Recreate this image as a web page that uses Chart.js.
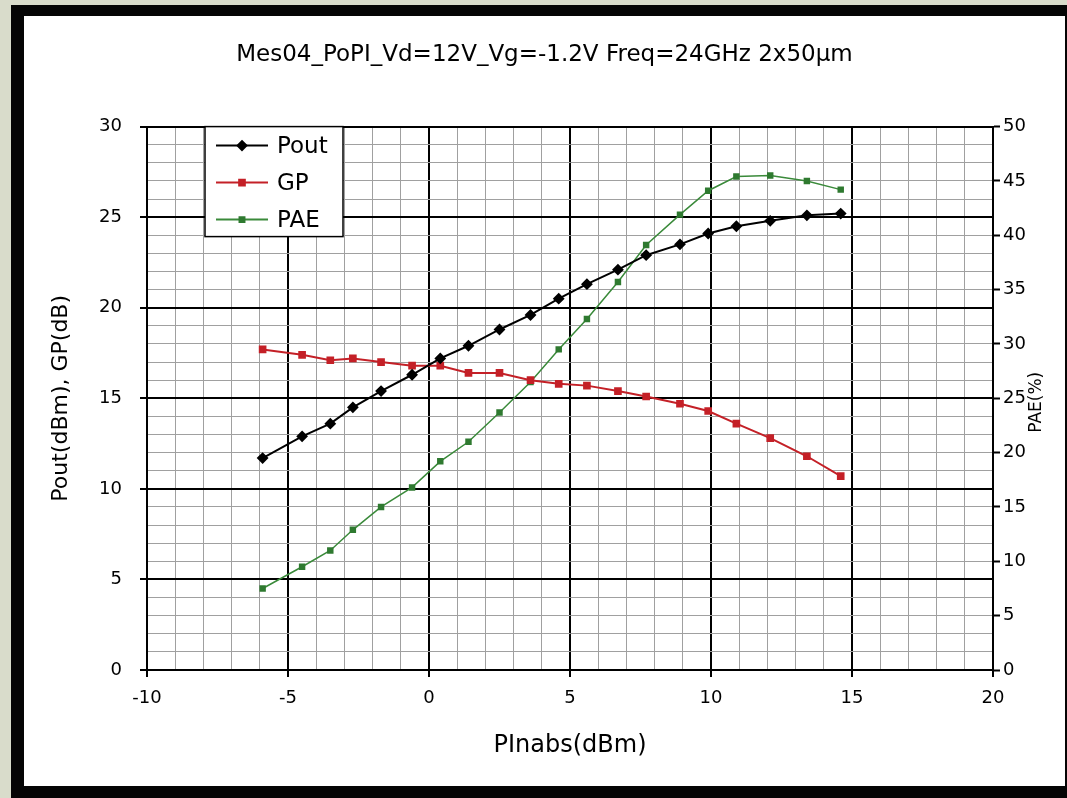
<!DOCTYPE html>
<html>
<head>
<meta charset="utf-8">
<script src="https://cdn.jsdelivr.net/npm/chart.js@4.4.0/dist/chart.umd.min.js"></script>
<style>
  html, body { margin:0; padding:0; background:#d9dccb; }
  #frame { position:absolute; left:11px; top:5px; width:1056px; height:793px; background:#050505; }
  #panel { position:absolute; left:24px; top:16px; width:1041px; height:770px; background:#fff; }
</style>
</head>
<body>
<div id="frame"></div>
<div id="panel"><canvas id="chart" width="1041" height="770"></canvas></div>
<script>
// Pin absorbed (dBm) and the three measured series
const PIN  = [-5.9, -4.5, -3.5, -2.7, -1.7, -0.6, 0.4, 1.4, 2.5, 3.6, 4.6, 5.6, 6.7, 7.7, 8.9, 9.9, 10.9, 12.1, 13.4, 14.6];
const POUT = [11.7, 12.9, 13.6, 14.5, 15.4, 16.3, 17.2, 17.9, 18.8, 19.6, 20.5, 21.3, 22.1, 22.9, 23.5, 24.1, 24.5, 24.8, 25.1, 25.2];
const GP   = [17.7, 17.4, 17.1, 17.2, 17.0, 16.8, 16.8, 16.4, 16.4, 16.0, 15.8, 15.7, 15.4, 15.1, 14.7, 14.3, 13.6, 12.8, 11.8, 10.7];
const PAE  = [7.5, 9.5, 11.0, 12.9, 15.0, 16.8, 19.2, 21.0, 23.7, 26.5, 29.5, 32.3, 35.7, 39.1, 41.9, 44.1, 45.4, 45.5, 45.0, 44.2];

const X_RANGE = [-10, 20];
const Y_RANGE = [0, 30];
const Y2_RANGE = [0, 50];
const TITLE = "Mes04_PoPI_Vd=12V_Vg=-1.2V Freq=24GHz 2x50\u00b5m";

const FONT = "DejaVu Sans";
const major = v => Math.abs(v % 5) < 1e-9;
const gridOpts = {
  color: c => (c.tick && major(c.tick.value)) ? '#000' : '#a0a0a0',
  lineWidth: c => (c.tick && major(c.tick.value)) ? 2 : 1,
  tickColor: c => (c.tick && major(c.tick.value)) ? '#000' : 'rgba(0,0,0,0)',
  tickWidth: 2,
  tickLength: 7
};

const pts = ys => PIN.map((x, i) => ({ x, y: ys[i] }));

// legend box drawn inside the plot, Excel style
const boxLegend = {
  id: 'boxLegend',
  afterDatasetsDraw(chart) {
    const { ctx, chartArea } = chart;
    const x0 = chartArea.left + 58, y0 = chartArea.top, w = 138, h = 110;
    ctx.save();
    ctx.fillStyle = '#fff';
    ctx.fillRect(x0, y0, w, h);
    ctx.strokeStyle = '#000';
    ctx.lineWidth = 1.5;
    ctx.strokeRect(x0, y0, w, h);
    chart.data.datasets.forEach((ds, i) => {
      const cy = y0 + 19 + i * 37;
      ctx.strokeStyle = ds.borderColor;
      ctx.lineWidth = 2;
      ctx.beginPath(); ctx.moveTo(x0 + 11, cy); ctx.lineTo(x0 + 63, cy); ctx.stroke();
      ctx.fillStyle = ds.pointBackgroundColor;
      ctx.strokeStyle = ds.pointBackgroundColor;
      Chart.helpers.drawPoint(ctx, { pointStyle: ds.pointStyle, radius: ds.pointRadius, borderWidth: 1, rotation: 0 }, x0 + 37, cy);
      ctx.fillStyle = '#000';
      ctx.font = '23px "' + FONT + '"';
      ctx.textBaseline = 'middle';
      ctx.textAlign = 'left';
      ctx.fillText(ds.label, x0 + 72, cy + 1);
    });
    ctx.restore();
  }
};

// right axis title reads bottom-to-top and sits over the tick labels
const rightTitle = {
  id: 'rightTitle',
  afterDraw(chart) {
    const s = chart.scales.y2, ctx = chart.ctx;
    ctx.save();
    ctx.translate(s.left + 44, (chart.chartArea.top + chart.chartArea.bottom) / 2 + 4);
    ctx.rotate(-Math.PI / 2);
    ctx.font = '17px "' + FONT + '"';
    ctx.fillStyle = '#000';
    ctx.textAlign = 'center';
    ctx.textBaseline = 'middle';
    ctx.fillText('PAE(%)', 0, 0);
    ctx.restore();
  }
};

new Chart(document.getElementById('chart'), {
  type: 'scatter',
  data: {
    datasets: [
      { label: 'Pout', data: pts(POUT), yAxisID: 'y', showLine: true, borderColor: '#000', backgroundColor: '#000',
        pointBackgroundColor: '#000', pointBorderColor: '#000', pointStyle: 'rectRot', pointRadius: 4.5, borderWidth: 2 },
      { label: 'GP', data: pts(GP), yAxisID: 'y', showLine: true, borderColor: '#c42027', backgroundColor: '#c42027',
        pointBackgroundColor: '#c42027', pointBorderColor: '#c42027', pointStyle: 'rect', pointRadius: 4, borderWidth: 2 },
      { label: 'PAE', data: pts(PAE), yAxisID: 'y2', showLine: true, borderColor: '#3a8a3a', backgroundColor: '#2f7a30',
        pointBackgroundColor: '#2f7a30', pointBorderColor: '#2f7a30', pointStyle: 'rect', pointRadius: 3.5, borderWidth: 1.5 }
    ]
  },
  options: {
    responsive: false,
    animation: false,
    layout: { padding: 0 },
    plugins: {
      legend: { display: false },
      tooltip: { enabled: false },
      title: { display: true, text: TITLE, color: '#000', font: { family: FONT, size: 23, weight: 'normal' },
               padding: { top: 25, bottom: 58 } }
    },
    scales: {
      x: {
        type: 'linear', min: X_RANGE[0], max: X_RANGE[1],
        grid: gridOpts,
        border: { color: '#000', width: 2 },
        ticks: { stepSize: 1, autoSkip: false, maxRotation: 0, padding: 11, color: '#000',
                 font: { family: FONT, size: 18 }, callback: v => major(v) ? v : '' },
        title: { display: true, text: 'PInabs(dBm)', color: '#000', font: { family: FONT, size: 24 },
                 padding: { top: 0, bottom: 26 } },
        afterFit(s) { s.height = 116; }
      },
      y: {
        position: 'left', min: Y_RANGE[0], max: Y_RANGE[1],
        grid: gridOpts,
        border: { color: '#000', width: 2 },
        ticks: { stepSize: 1, autoSkip: false, padding: 18, color: '#000',
                 font: { family: FONT, size: 18 }, callback: v => major(v) ? v : '' },
        title: { display: true, text: 'Pout(dBm), GP(dB)', color: '#000', font: { family: FONT, size: 22 },
                 padding: { top: 24, bottom: 0 } },
        afterFit(s) { s.width = 123; }
      },
      y2: {
        position: 'right', min: Y2_RANGE[0], max: Y2_RANGE[1],
        grid: { drawOnChartArea: false, color: '#000', tickLength: 7, tickWidth: 2 },
        border: { color: '#000', width: 2 },
        ticks: { stepSize: 5, padding: 3, color: '#000', font: { family: FONT, size: 18 } },
        afterFit(s) { s.width = 72; }
      }
    }
  },
  plugins: [boxLegend, rightTitle]
});
</script>
</body>
</html>
